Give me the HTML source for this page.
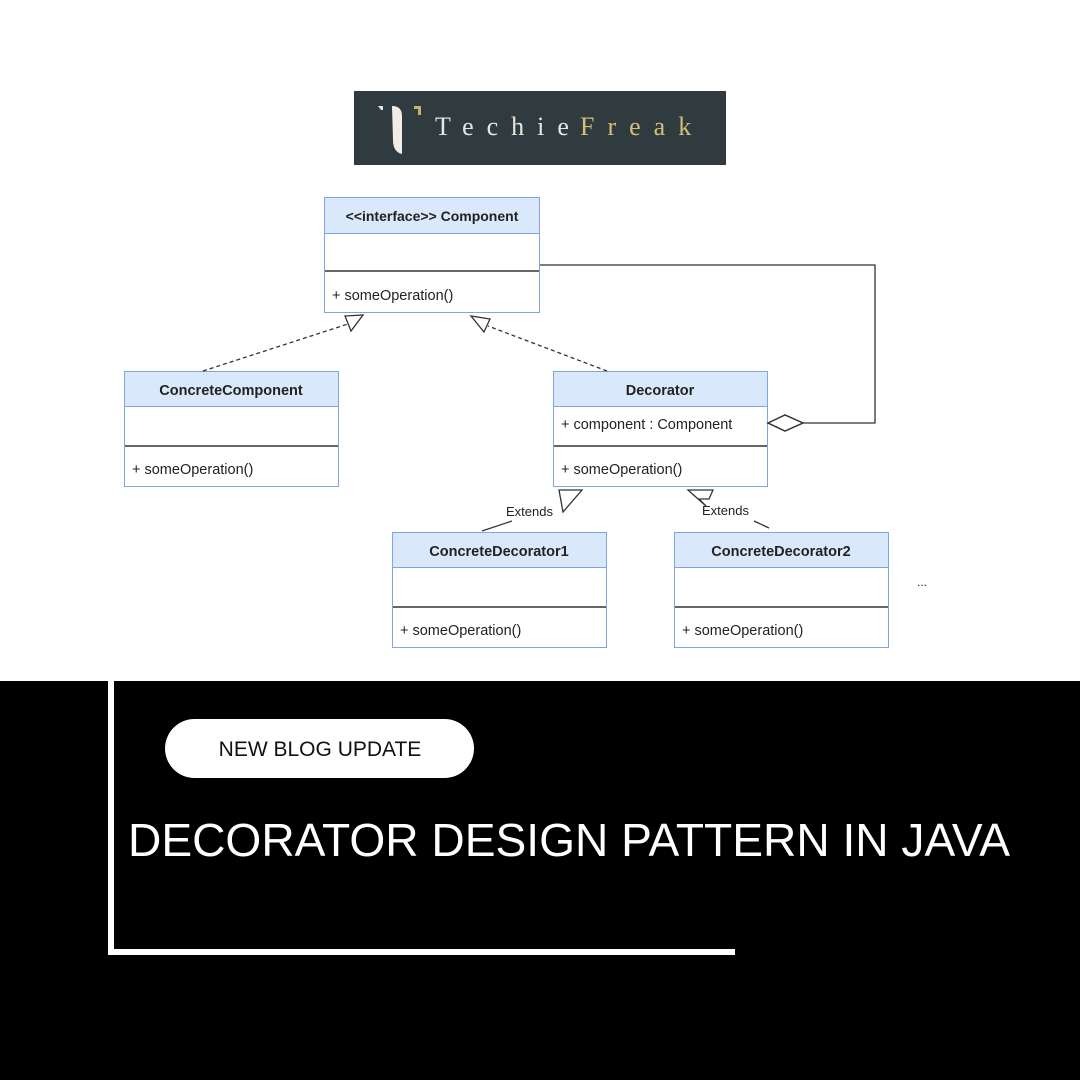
<!DOCTYPE html>
<html><head><style>html,body{margin:0;padding:0;background:#fff}svg{display:block}</style></head>
<body>
<svg width="1080" height="1080" viewBox="0 0 1080 1080" xmlns="http://www.w3.org/2000/svg" font-family="Liberation Sans, Arial, sans-serif">
<rect width="1080" height="1080" fill="#fff"/>
<!-- logo -->
<rect x="354" y="91" width="372" height="74" fill="#2f3b3e"/>
<path d="M378 106 h5 v4 h-2 z" fill="#e8e4da"/>
<path d="M392 106 q10 0 10 10 v38 q-9 -2 -9 -14 z" fill="#f0ede6"/>
<path d="M414 106 h7 v9 h-3 v-6 h-4z" fill="#c9b169"/>
<text x="435" y="135" font-family="Liberation Serif, serif" font-size="26" fill="#e8e6df" letter-spacing="13">Techie</text>
<text x="580" y="135" font-family="Liberation Serif, serif" font-size="26" fill="#d4bf78" letter-spacing="13">Freak</text>
<g font-size="14.5" fill="#222">
<!-- Component -->
<rect x="324.5" y="197.5" width="215" height="36" fill="#dae8fc" stroke="#7ea6e0"/>
<rect x="324.5" y="233.5" width="215" height="79" fill="#fff" stroke="#7ea6e0"/>
<line x1="325" y1="271" x2="539" y2="271" stroke="#333" stroke-width="1.5"/>
<text x="432" y="221" text-anchor="middle" font-weight="bold" font-size="14">&lt;&lt;interface&gt;&gt; Component</text>
<text x="332" y="300">+ someOperation()</text>
<!-- ConcreteComponent -->
<rect x="124.5" y="371.5" width="214" height="35" fill="#dae8fc" stroke="#7ea6e0"/>
<rect x="124.5" y="406.5" width="214" height="80" fill="#fff" stroke="#7ea6e0"/>
<line x1="125" y1="446" x2="338" y2="446" stroke="#333" stroke-width="1.5"/>
<text x="231" y="395" text-anchor="middle" font-weight="bold">ConcreteComponent</text>
<text x="132" y="474">+ someOperation()</text>
<!-- Decorator -->
<rect x="553.5" y="371.5" width="214" height="35" fill="#dae8fc" stroke="#7ea6e0"/>
<rect x="553.5" y="406.5" width="214" height="80" fill="#fff" stroke="#7ea6e0"/>
<line x1="554" y1="446" x2="767" y2="446" stroke="#333" stroke-width="1.5"/>
<text x="660" y="395" text-anchor="middle" font-weight="bold">Decorator</text>
<text x="561" y="429">+ component : Component</text>
<text x="561" y="474">+ someOperation()</text>
<!-- CD1 -->
<rect x="392.5" y="532.5" width="214" height="35" fill="#dae8fc" stroke="#7ea6e0"/>
<rect x="392.5" y="567.5" width="214" height="80" fill="#fff" stroke="#7ea6e0"/>
<line x1="393" y1="607" x2="606" y2="607" stroke="#333" stroke-width="1.5"/>
<text x="499" y="556" text-anchor="middle" font-weight="bold">ConcreteDecorator1</text>
<text x="400" y="635">+ someOperation()</text>
<!-- CD2 -->
<rect x="674.5" y="532.5" width="214" height="35" fill="#dae8fc" stroke="#7ea6e0"/>
<rect x="674.5" y="567.5" width="214" height="80" fill="#fff" stroke="#7ea6e0"/>
<line x1="675" y1="607" x2="888" y2="607" stroke="#333" stroke-width="1.5"/>
<text x="781" y="556" text-anchor="middle" font-weight="bold">ConcreteDecorator2</text>
<text x="682" y="635">+ someOperation()</text>
<text x="917" y="586" font-size="12">...</text>
</g>
<!-- connectors -->
<g stroke="#333" fill="none" stroke-width="1.3">
<line x1="203" y1="371" x2="348" y2="324" stroke-dasharray="4,3"/>
<path d="M345 316 L363 315 L351 331 Z" fill="#fff"/>
<line x1="607" y1="371" x2="488" y2="326" stroke-dasharray="4,3"/>
<path d="M471 316 L490 319 L484 332 Z" fill="#fff"/>
<path d="M540 265 H875 V423 H803"/>
<path d="M768 423 L785 415 L803 423 L785 431 Z" fill="#fff" stroke-width="1.5"/>
<line x1="482" y1="531" x2="512" y2="521"/>
<path d="M559 490 L582 490 L563 512 Z" fill="#fff"/>
<line x1="754" y1="521" x2="769" y2="528"/>
<path d="M688 490 L713 490 L709 499 L699 499 L706 506 Z" fill="#fff"/>
</g>
<text x="506" y="516" font-size="13" fill="#222">Extends</text>
<text x="702" y="515" font-size="13" fill="#222">Extends</text>
<!-- bottom -->
<rect x="0" y="681" width="1080" height="399" fill="#000"/>
<rect x="108" y="681" width="6" height="274" fill="#fff"/>
<rect x="108" y="949" width="627" height="6" fill="#fff"/>
<rect x="165" y="719" width="309" height="59" rx="29.5" fill="#fff"/>
<text x="320" y="756" text-anchor="middle" font-size="21" fill="#111">NEW BLOG UPDATE</text>
<text x="128" y="856" font-size="46" fill="#fff" textLength="882" lengthAdjust="spacingAndGlyphs">DECORATOR DESIGN PATTERN IN JAVA</text>
</svg>
</body></html>
